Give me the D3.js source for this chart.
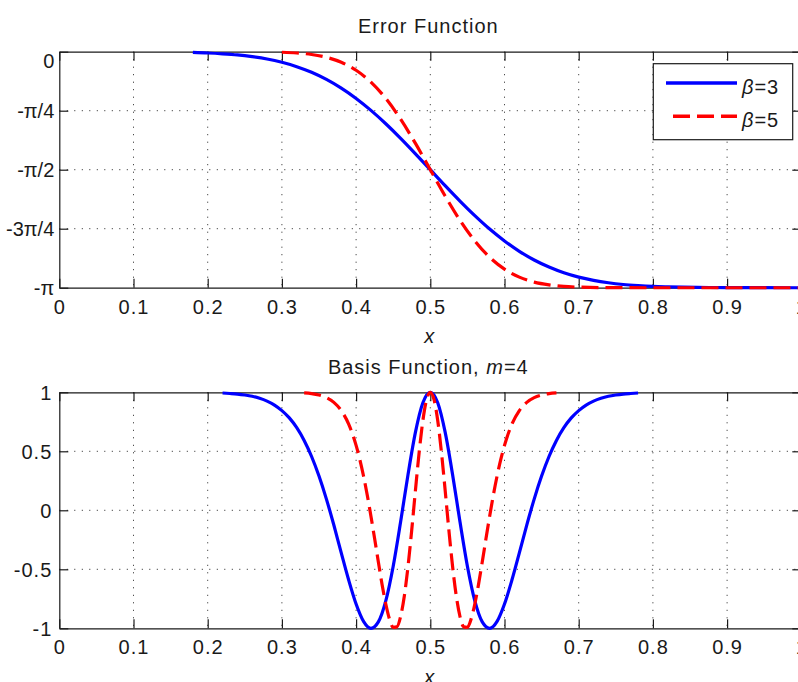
<!DOCTYPE html>
<html>
<head>
<meta charset="utf-8">
<script src="https://cdn.jsdelivr.net/npm/d3@7"></script>
<style>
body { margin: 0; background: #fff; }
svg { display: block; font-family: "Liberation Sans", Arial, sans-serif; }
</style>
</head>
<body>
<div id="content"></div>
<script>

const PI = Math.PI;

// shared x axis
let xTicks = [0, 0.1, 0.2, 0.3, 0.4, 0.5, 0.6, 0.7, 0.8, 0.9, 1];
let xTickLabels = ['0', '0.1', '0.2', '0.3', '0.4', '0.5', '0.6', '0.7', '0.8', '0.9', '1'];

// top panel: phase, in multiples of pi
let phaseTicks = [-PI, -3 * PI / 4, -PI / 2, -PI / 4, 0];
let phaseTickLabels = ['-\u03c0', '-3\u03c0/4', '-\u03c0/2', '-\u03c0/4', '0'];

// bottom panel
let basisTicks = [-1, -0.5, 0, 0.5, 1];
let basisTickLabels = ['-1', '-0.5', '0', '0.5', '1'];

let betas = ['3', '5'];

// values, [x, y]
let errBeta3 = [
    [0.18, -0.010], [0.20, -0.017], [0.22, -0.028], [0.24, -0.043], [0.26, -0.066],
    [0.28, -0.097], [0.30, -0.141], [0.32, -0.199], [0.34, -0.274], [0.36, -0.369],
    [0.38, -0.485], [0.40, -0.622], [0.42, -0.781], [0.44, -0.959], [0.46, -1.153],
    [0.48, -1.359], [0.50, -1.571], [0.52, -1.783], [0.54, -1.988], [0.56, -2.182],
    [0.58, -2.361], [0.60, -2.519], [0.62, -2.657], [0.64, -2.773], [0.66, -2.867],
    [0.68, -2.943], [0.70, -3.001], [0.72, -3.044], [0.74, -3.076], [0.76, -3.099],
    [0.78, -3.114], [0.80, -3.125], [0.82, -3.131], [0.86, -3.138], [0.90, -3.140],
    [1.00, -3.142]
];

let errBeta5 = [
    [0.30, -0.007], [0.32, -0.017], [0.34, -0.037], [0.36, -0.075], [0.38, -0.141],
    [0.40, -0.247], [0.42, -0.405], [0.44, -0.622], [0.46, -0.898], [0.48, -1.221],
    [0.50, -1.571], [0.52, -1.921], [0.54, -2.244], [0.56, -2.519], [0.58, -2.737],
    [0.60, -2.895], [0.62, -3.001], [0.64, -3.067], [0.66, -3.104], [0.68, -3.125],
    [0.70, -3.134], [0.74, -3.141], [0.80, -3.142], [1.00, -3.142]
];

let basisBeta3 = [
    [0.22, 0.994], [0.23, 0.990], [0.24, 0.985], [0.25, 0.977], [0.26, 0.966],
    [0.27, 0.949], [0.28, 0.925], [0.29, 0.892], [0.30, 0.845], [0.31, 0.783],
    [0.32, 0.700], [0.33, 0.592], [0.34, 0.456], [0.35, 0.290], [0.36, 0.095],
    [0.37, -0.125], [0.38, -0.361], [0.39, -0.591], [0.40, -0.794], [0.41, -0.941],
    [0.42, -1.000], [0.43, -0.946], [0.44, -0.768], [0.45, -0.474], [0.46, -0.098],
    [0.47, 0.304], [0.48, 0.662], [0.49, 0.911], [0.50, 1.000], [0.51, 0.911],
    [0.52, 0.662], [0.53, 0.304], [0.54, -0.098], [0.55, -0.474], [0.56, -0.768],
    [0.57, -0.946], [0.58, -1.000], [0.59, -0.941], [0.60, -0.794], [0.61, -0.591],
    [0.62, -0.361], [0.63, -0.125], [0.64, 0.095], [0.65, 0.290], [0.66, 0.456],
    [0.67, 0.592], [0.68, 0.700], [0.69, 0.783], [0.70, 0.845], [0.71, 0.892],
    [0.72, 0.925], [0.73, 0.949], [0.74, 0.966], [0.75, 0.977], [0.76, 0.985],
    [0.77, 0.990], [0.78, 0.994]
];

let basisBeta5 = [
    [0.33, 0.995], [0.34, 0.989], [0.35, 0.977], [0.36, 0.955], [0.37, 0.915],
    [0.38, 0.845], [0.39, 0.730], [0.40, 0.550], [0.405, 0.431], [0.41, 0.291],
    [0.415, 0.130], [0.42, -0.050], [0.425, -0.242], [0.43, -0.438], [0.435, -0.628],
    [0.44, -0.794], [0.445, -0.922], [0.45, -0.992], [0.455, -0.988], [0.46, -0.900],
    [0.465, -0.726], [0.47, -0.474], [0.475, -0.165], [0.48, 0.171], [0.485, 0.493],
    [0.49, 0.761], [0.495, 0.938], [0.50, 1.000], [0.505, 0.938], [0.51, 0.761],
    [0.515, 0.493], [0.52, 0.171], [0.525, -0.165], [0.53, -0.474], [0.535, -0.726],
    [0.54, -0.900], [0.545, -0.988], [0.55, -0.992], [0.555, -0.922], [0.56, -0.794],
    [0.565, -0.628], [0.57, -0.438], [0.575, -0.242], [0.58, -0.050], [0.585, 0.130],
    [0.59, 0.291], [0.595, 0.431], [0.60, 0.550], [0.61, 0.730], [0.62, 0.845],
    [0.63, 0.915], [0.64, 0.955], [0.65, 0.977], [0.66, 0.989], [0.67, 0.995]
];

const W = 798, H = 682;
const LEFT = 59.3, RIGHT = 801.3;
const INK = '#1a1a1a';
const DASH = '17,7';

let svg = d3.select('#content').append('svg')
    .attr('width', W)
    .attr('height', H);

let x = d3.scaleLinear().domain([0, 1]).range([LEFT, RIGHT]);

function styleAxis(g) {
    g.attr('font-family', null).attr('font-size', null);
    g.selectAll('path, line').attr('stroke', INK).attr('stroke-width', 1.2);
    g.selectAll('text')
        .attr('fill', INK)
        .style('font-size', '20px')
        .style('letter-spacing', '1px');
}

function drawPanel(opts) {
    let y = d3.scaleLinear().domain(opts.domain).range([opts.bottom, opts.top]);
    let panel = svg.append('g');

    // dotted grid
    let grid = panel.append('g')
        .attr('stroke', '#222')
        .attr('stroke-width', 1)
        .attr('stroke-dasharray', '1,6.5');
    grid.selectAll('.vgrid')
        .data(xTicks.slice(1, -1))
        .join('line')
        .attr('x1', d => x(d)).attr('x2', d => x(d))
        .attr('y1', opts.top).attr('y2', opts.bottom);
    grid.selectAll('.hgrid')
        .data(opts.ticks.slice(1, -1))
        .join('line')
        .attr('x1', LEFT).attr('x2', RIGHT)
        .attr('y1', d => y(d)).attr('y2', d => y(d));

    // box with inward ticks
    panel.append('g')
        .attr('transform', `translate(0,${opts.bottom})`)
        .call(d3.axisBottom(x).tickValues(xTicks)
            .tickFormat((d, i) => xTickLabels[i])
            .tickSize(-9).tickSizeOuter(0).tickPadding(12))
        .call(styleAxis);
    panel.append('g')
        .attr('transform', `translate(0,${opts.top})`)
        .call(d3.axisTop(x).tickValues(xTicks).tickFormat('')
            .tickSize(-9).tickSizeOuter(0))
        .call(styleAxis);
    let yAxis = panel.append('g')
        .attr('transform', `translate(${LEFT},0)`)
        .call(d3.axisLeft(y).tickValues(opts.ticks)
            .tickFormat((d, i) => opts.tickLabels[i])
            .tickSize(-9).tickSizeOuter(0).tickPadding(opts.labelPad))
        .call(styleAxis);
    yAxis.selectAll('text')
        .attr('dy', '0.36em')
        .style('letter-spacing', opts.labelSpacing);
    if (opts.topLabelDown) {
        yAxis.selectAll('text').filter(d => d === opts.domain[1]).attr('dy', '0.8em');
    }
    panel.append('g')
        .attr('transform', `translate(${RIGHT},0)`)
        .call(d3.axisRight(y).tickValues(opts.ticks).tickFormat('')
            .tickSize(-9).tickSizeOuter(0))
        .call(styleAxis);

    // curves
    let line = d3.line()
        .x(d => x(d[0]))
        .y(d => y(d[1]))
        .curve(d3.curveMonotoneX);

    panel.append('path')
        .datum(opts.series[0])
        .attr('fill', 'none')
        .attr('stroke', '#0000ff')
        .attr('stroke-width', 3.2)
        .attr('d', line);
    panel.append('path')
        .datum(opts.series[1])
        .attr('fill', 'none')
        .attr('stroke', '#ff0000')
        .attr('stroke-width', 3.2)
        .attr('stroke-dasharray', DASH)
        .attr('d', line);

    // title
    let title = panel.append('text')
        .attr('x', (LEFT + RIGHT) / 2 - 2)
        .attr('y', opts.top - 18.5)
        .attr('text-anchor', 'middle')
        .attr('fill', INK)
        .style('font-size', '20px')
        .style('letter-spacing', '1px');
    opts.title.forEach(part => {
        title.append('tspan')
            .attr('font-style', part.italic ? 'italic' : null)
            .text(part.text);
    });

    // x label
    panel.append('text')
        .attr('x', (LEFT + RIGHT) / 2 - 1)
        .attr('y', opts.bottom + 55.5)
        .attr('text-anchor', 'middle')
        .attr('fill', INK)
        .attr('font-style', 'italic')
        .style('font-size', '20px')
        .text('x');

    return panel;
}

drawPanel({
    top: 51.7, bottom: 287.7,
    domain: [-PI, 0],
    ticks: phaseTicks, tickLabels: phaseTickLabels,
    labelPad: 5, labelSpacing: '0px',
    topLabelDown: true,
    series: [errBeta3, errBeta5],
    title: [{text: 'Error Function'}]
});

drawPanel({
    top: 392.3, bottom: 628.3,
    domain: [-1, 1],
    ticks: basisTicks, tickLabels: basisTickLabels,
    labelPad: 7, labelSpacing: '1px',
    series: [basisBeta3, basisBeta5],
    title: [{text: 'Basis Function, '}, {text: 'm', italic: true}, {text: '=4'}]
});

// legend
function drawLegend() {
    let lg = svg.append('g');
    lg.append('rect')
        .attr('x', 653.3).attr('y', 63.7)
        .attr('width', 139.4).attr('height', 76)
        .attr('fill', '#fff')
        .attr('stroke', INK)
        .attr('stroke-width', 1.2);

    let rows = lg.selectAll('.row')
        .data(betas)
        .join('g')
        .attr('transform', (d, i) => `translate(0,${83 + i * 33.3})`);

    rows.append('line')
        .attr('x1', (d, i) => i === 0 ? 666 : 673)
        .attr('x2', 737)
        .attr('stroke', (d, i) => i === 0 ? '#0000ff' : '#ff0000')
        .attr('stroke-width', 3.5)
        .attr('stroke-dasharray', (d, i) => i === 0 ? null : DASH);

    let label = rows.append('text')
        .attr('x', 742)
        .attr('y', 11)
        .attr('fill', INK)
        .style('font-size', '20px')
        .style('letter-spacing', '1px');
    label.append('tspan').attr('font-style', 'italic').text('\u03b2');
    label.append('tspan').text(d => '=' + d);
}

drawLegend();

</script>
</body>
</html>
